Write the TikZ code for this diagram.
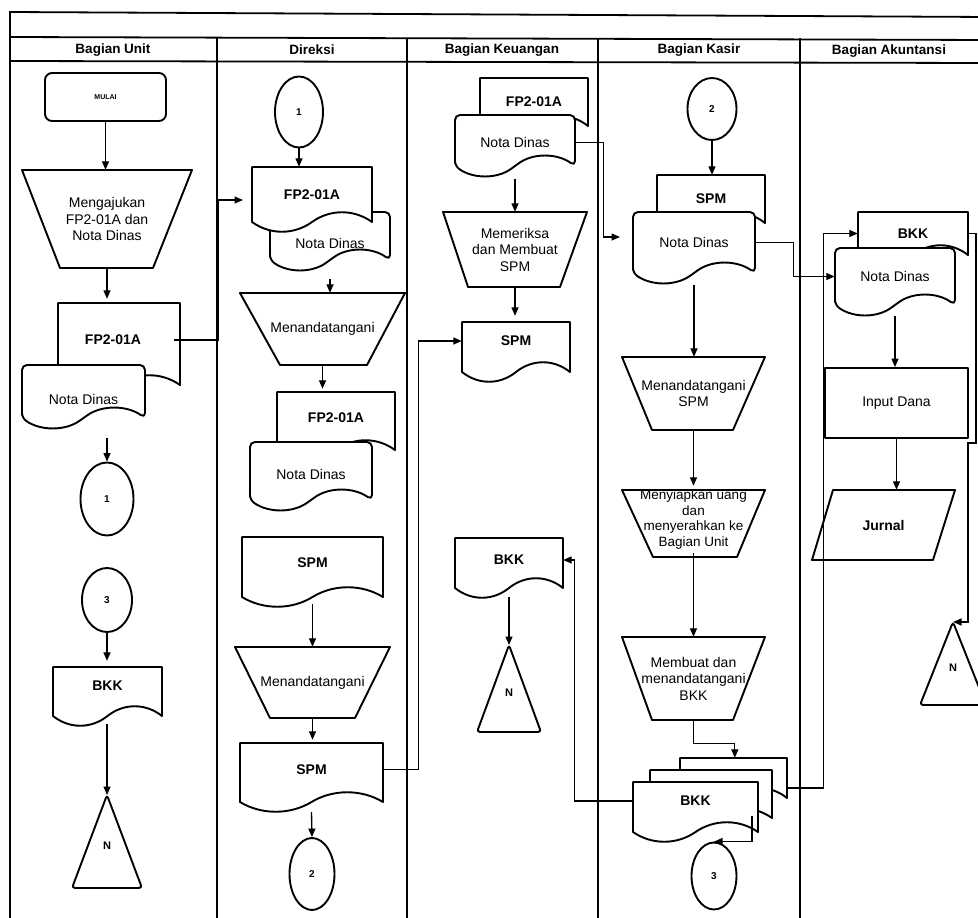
\documentclass[tikz,border=0pt]{standalone}
\usepackage{fontspec}
\setmainfont{Liberation Sans}
\usetikzlibrary{calc,shapes.geometric,arrows.meta}
\tikzset{
  shp/.style={draw=black, line width=1.9pt, fill=white, line join=round},
  con/.style={draw=black, line width=1.35pt},
  arr/.style={con, -{Triangle[length=8.5pt,width=7pt]}},
  lane/.style={draw=black, line width=1.8pt},
  box/.style={draw=none, inner sep=0pt},
  lbl/.style={align=center, font=\fontsize{14}{16.5}\selectfont},
  bl/.style={font=\bfseries\fontsize{14}{16.5}\selectfont},
  hdr/.style={inner sep=0pt, font=\bfseries\fontsize{13.5}{15}\selectfont},
  conn/.style={shp, ellipse, inner sep=0pt, font=\bfseries\fontsize{10}{12}\selectfont},
}
% document shape: [path opts]{name}{x1}{y1}{x2}{yb}{text}{node opts}
\newcommand{\docu}[8][]{%
  \pgfmathsetmacro{\dw}{#5-#3}%
  \pgfmathsetmacro{\dh}{#6-#4}%
  \draw[shp,#1] (#3,#6) -- (#3,#4) -- (#5,#4) -- (#5,#6)
    .. controls ({#5-0.15*\dw},{#6-13}) and ({#5-0.35*\dw},{#6-13}) .. ({#3+0.5*\dw},#6)
    .. controls ({#3+0.35*\dw},{#6+13}) and ({#3+0.15*\dw},{#6+13}) .. (#3,#6) -- cycle;
  \node[box,lbl,minimum width=\dw pt,minimum height=\dh pt,#8] (#2) at ({(#3+#5)/2},{(#4+#6)/2}) {#7};
}
% manual operation: [node opts]{name}{xtl}{xtr}{yt}{xbl}{xbr}{yb}{text}
\newcommand{\trap}[9][]{%
  \draw[shp] (#3,#5) -- (#4,#5) -- (#7,#8) -- (#6,#8) -- cycle;
  \pgfmathsetmacro{\tw}{#4-#3}%
  \pgfmathsetmacro{\th}{#8-#5}%
  \node[box,lbl,minimum width=\tw pt,minimum height=\th pt,#1] (#2) at ({(#3+#4)/2},{(#5+#8)/2}) {#9};
}
% off-page connector: {name}{x}{yapex}{ybase}{halfwidth}
\newcommand{\tri}[5]{%
  \draw[shp, rounded corners=3pt] (#2,#3) -- ({#2+#5},#4) -- ({#2-#5},#4) -- cycle;
  \coordinate (#1) at (#2,#3);
  \node[inner sep=0pt, font=\bfseries\fontsize{11}{12}\selectfont] (#1-txt) at (#2,{#3+0.55*(#4-#3)}) {N};
}
\begin{document}
\begin{tikzpicture}[x=1pt,y=-1pt]
\useasboundingbox (0,0) rectangle (978,918);
\clip (0,0) rectangle (978,918);
\fill[white] (0,0) rectangle (978,918);
% frame and lanes
\draw[lane] (10,918) -- (10,12) -- (990,17);
\draw[lane] (10,37) -- (990,40);
\draw[lane] (10,61) -- (990,63);
\foreach \x in {217,407,598,800} \draw[lane] (\x,38) -- (\x,918);
\node[hdr] (h1) at (113,50) {Bagian Unit};
\node[hdr] (h2) at (312,50) {Direksi};
\node[hdr] (h3) at (502,50) {Bagian Keuangan};
\node[hdr] (h4) at (699,50) {Bagian Kasir};
\node[hdr] (h5) at (889,51) {Bagian Akuntansi};

% ---------- Bagian Unit ----------
\node[shp, rounded corners=7pt, minimum width=121pt, minimum height=48pt, inner sep=0pt,
      font=\bfseries\fontsize{7}{8}\selectfont] (mulai) at (105.5,97) {MULAI};
\trap{ut1}{22}{192}{170}{60}{153}{268}{Mengajukan\\FP2-01A dan\\Nota Dinas}
\docu{uFP}{58}{303}{180}{385}{FP2-01A}{bl, xshift=-6pt, yshift=4pt}
\docu[rounded corners=5pt]{uND}{22}{365}{145}{418}{Nota Dinas}{yshift=-8pt}
\node[conn, minimum width=53pt, minimum height=73pt] (uc1) at (107,499) {1};
\node[conn, minimum width=50pt, minimum height=64pt] (uc3) at (107,600) {3};
\docu{uBKK}{53}{667}{162}{716}{BKK}{bl, yshift=6pt}
\tri{uN}{107}{795}{888}{35}

% ---------- Direksi ----------
\node[conn, minimum width=48pt, minimum height=71pt] (dc1) at (299,112) {1};
\docu[rounded corners=5pt]{dND1}{270}{212}{390}{260}{Nota Dinas}{yshift=-7pt}
\docu{dFP1}{252}{167}{372}{222}{FP2-01A}{bl}
\trap{dt1}{240}{405}{293}{280}{367}{365}{Menandatangani}
\docu{dFP2}{277}{392}{395}{450}{FP2-01A}{bl, yshift=3pt}
\docu[rounded corners=5pt]{dND2}{250}{442}{372}{500}{Nota Dinas}{yshift=-3pt}
\docu{dSPM1}{242}{537}{383}{597}{SPM}{bl, yshift=4pt}
\trap{dt2}{235}{390}{647}{270}{355}{718}{Menandatangani}
\docu{dSPM2}{240}{743}{383}{802}{SPM}{bl, yshift=3pt}
\node[conn, minimum width=45pt, minimum height=72pt] (dc2) at (312,874) {2};
\coordinate (dIn) at (243,200);

% ---------- Bagian Keuangan ----------
\docu{kFP}{480}{78}{588}{126}{FP2-01A}{bl}
\docu[rounded corners=5pt]{kND}{455}{115}{575}{166}{Nota Dinas}{yshift=-2pt}
\trap{kt}{443}{587}{212}{468}{560}{287}{Memeriksa\\dan Membuat\\SPM}
\docu{kSPM}{462}{322}{570}{372}{SPM}{bl, yshift=6pt}
\docu{kBKK}{455}{538}{563}{588}{BKK}{bl, yshift=3pt}
\tri{kN}{509}{645}{732}{32}
\coordinate (kIn) at (620,237);

% ---------- Bagian Kasir ----------
\node[conn, minimum width=49pt, minimum height=62pt] (sc2) at (712,109) {2};
\docu{sSPM}{657}{175}{765}{223}{SPM}{bl}
\docu[rounded corners=5pt]{sND}{633}{212}{755}{273}{Nota Dinas}{}
\trap{st1}{622}{765}{357}{652}{733}{430}{Menandatangani\\SPM}
\trap[font=\fontsize{13.5}{15.5}\selectfont, yshift=4pt]{st2}{622}{765}{490}{653}{737}{557}{Menyiapkan uang\\dan\\menyerahkan ke\\Bagian Unit}
\trap{st3}{622}{765}{637}{652}{733}{720}{Membuat dan\\menandatangani\\BKK}
\docu{sBKK3}{680}{758}{787}{798}{}{}
\docu{sBKK2}{650}{770}{772}{818}{}{}
\docu{sBKK}{633}{782}{758}{832}{BKK}{bl, yshift=6pt}
\node[conn, minimum width=45pt, minimum height=67pt] (sc3) at (714,876) {3};
\coordinate (sOut) at (752,816);

% ---------- Bagian Akuntansi ----------
\docu{aBKK}{858}{212}{968}{255}{BKK}{bl}
\docu[rounded corners=5pt]{aND}{835}{248}{955}{305}{Nota Dinas}{}
\node[shp, minimum width=143pt, minimum height=70pt, inner sep=0pt, lbl] (aIn) at (896.5,403) {Input Dana};
\draw[shp] (833,490) -- (955,490) -- (933,560) -- (812,560) -- cycle;
\node[box, bl, minimum width=122pt, minimum height=70pt] (aJ) at (883.5,525) {Jurnal};
\tri{aN}{953}{622}{705}{33}
\coordinate (aR1) at (976,443);
\coordinate (aR2) at (968,443);

% ---------- connectors ----------
\draw[arr] (mulai.south) -- (mulai.south |- ut1.north);
\draw[arr] (ut1.south) -- (ut1.south |- uFP.north);
\draw[arr] ($(uND.south -| uc1.north)+(0,12)$) -- (uc1.north);
\draw[arr] (uFP.east) -- ++(44,0) |- (dIn);
\draw[arr] (uc3.south) -- (uc3.south |- uBKK.north);
\draw[arr] ($(uBKK.south -| uN)+(0,14)$) -- (uN);

\draw[arr] (dc1.south) -- (dc1.south |- dFP1.north);
\draw[arr] ($(dND1.south)+(0,12)$) -- (dND1.south |- dt1.north);
\draw[arr] (dt1.south) -- (dt1.south |- dFP2.north);
\draw[arr] ($(dSPM1.south)+(0,11)$) -- (dSPM1.south |- dt2.north);
\draw[arr] (dt2.south) -- (dt2.south |- dSPM2.north);
\draw[arr] ($(dSPM2.south)+(0,13)$) -- (dc2.north);
\draw[arr] (dSPM2.east) -- ++(35,0) |- (kSPM.west);

\draw[arr] (kND.east) -- ++(28,0) |- (kIn);
\draw[arr] ($(kND.south)+(0,11)$) -- (kND.south |- kt.north);
\draw[arr] (kt.south) -- (kt.south |- kSPM.north);
\draw[arr] ($(kBKK.south -| kN)+(0,12)$) -- (kN);

\draw[arr] (sc2.south) -- (sc2.south |- sSPM.north);
\draw[arr] ($(sND.south)+(0,12)$) -- (sND.south |- st1.north);
\draw[arr] (st1.south) -- (st1.south |- st2.north);
\draw[arr] (st2.south) -- (st2.south |- st3.north);
\draw[arr] (st3.south) -- ++(0,23) -| ($(sBKK3.north west)+(55,0)$);
\draw[arr] (sND.east) -- ++(38,0) |- (aND.west);
\draw[arr] ($(sBKK3.east)+(0,10)$) -- ++(36,0) |- (aBKK.west);
\draw[arr] (sBKK.west) -- ++(-58,0) |- (kBKK.east);
\draw[arr] (sOut) |- (sc3.north);

\draw[arr] ($(aND.south)+(0,11)$) -- (aND.south |- aIn.north);
\draw[arr] (aIn.south) -- (aIn.south |- aJ.north);
\draw[arr] (aBKK.east) -| (aR1) -- (aR2) |- (aN);
\end{tikzpicture}
\end{document}
